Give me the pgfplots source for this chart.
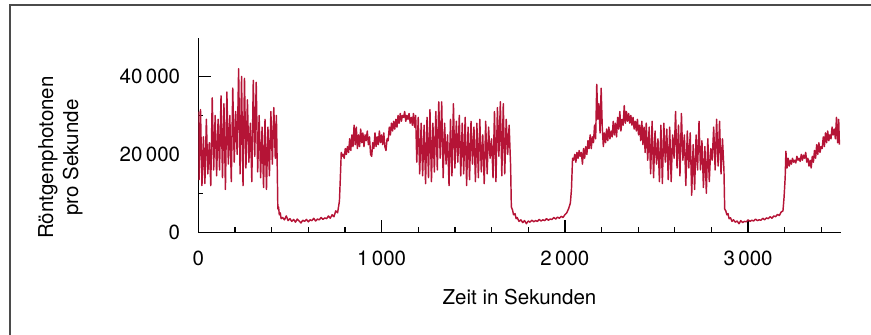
\documentclass[border=0pt]{standalone}
\usepackage{fontspec}
\setmainfont{TeX Gyre Heros}
\usepackage{pgfplots}
\pgfplotsset{compat=1.18}
\definecolor{crim}{RGB}{181,20,54}
\definecolor{framec}{RGB}{75,75,75}
\begin{document}
\fontsize{20.5}{25}\selectfont
\begin{tikzpicture}[x=1pt,y=1pt]
\useasboundingbox (0,0) rectangle (871,335);
\clip (0,0) rectangle (871,335);
\draw[framec, line width=1.7pt] (10.3,-20) -- (10.3,330.2) -- (900,330.2);
\begin{axis}[
  at={(198.3pt,102.7pt)}, anchor=south west,
  scale only axis, width=642.4pt, height=194.8pt,
  xmin=0, xmax=3505, ymin=0, ymax=50000,
  axis x line=bottom, axis y line=left,
  axis line style={-, line width=1.3pt, black},
  tick align=inside,
  major tick length=12.5pt, minor tick length=5pt,
  every tick/.style={line width=1.3pt, black},
  xtick={0,1000,2000,3000},
  minor xtick={200,400,600,800,1200,1400,1600,1800,2200,2400,2600,2800,3200,3400},
  ytick={0,20000,40000},
  minor ytick={10000,30000},
  /pgf/number format/assume math mode=true,
  /pgf/number format/1000 sep={\,},
  scaled ticks=false,
  tick label style={font=\fontsize{20.5}{25}\selectfont},
  xticklabel style={anchor=base, inner sep=0pt, yshift=-33pt},
  yticklabel style={anchor=east, inner sep=0pt, xshift=-18pt},
  every axis x label/.style={at={(axis description cs:0.5,-0.3732)}, anchor=base, inner sep=0pt, font=\fontsize{20.5}{25}\selectfont},
  every axis y label/.style={at={(axis description cs:-0.2145,0.384)}, anchor=center, rotate=90, align=center, inner sep=0pt, font=\fontsize{20.5}{25}\selectfont},
  xlabel={Zeit in Sekunden},
  ylabel={Röntgenphotonen\\pro Sekunde},
  clip=true,
]
\addplot[color=crim, line width=1.45pt, line join=round] coordinates {
(0,31000) (4,13500) (12,31500) (20,12000) (28,24500) (36,12500) (44,29000) (52,15000) (60,23000) (68,12000)
(76,34500) (84,16000) (92,30000) (100,14500) (108,29000) (116,16000) (124,35000) (132,14000) (140,33000) (148,11000)
(156,36000) (164,17500) (172,30000) (180,13000) (188,37000) (196,18000) (204,31000) (212,20000) (220,42000) (228,15000)
(236,40000) (244,12000) (252,39500) (260,16500) (268,34000) (276,18000) (284,28000) (292,13000) (300,39000) (308,19500)
(316,38500) (324,15500) (332,30000) (340,14000) (348,27000) (356,11500) (364,29000) (372,11000) (380,27000) (388,14500)
(396,31000) (404,17500) (412,32000) (420,19000) (426,30000) (430,19000) (434,6000) (438,6500) (442,4500) (447,5000) (452,3500)
(460,3800) (470,3200) (480,4200) (490,3000) (500,3500) (510,2800) (520,3300) (530,2600) (540,3400) (550,2900)
(560,2400) (570,3100) (580,2800) (590,3300) (600,2700) (610,3200) (620,3000) (630,3600) (640,2900) (650,3400)
(660,3200) (670,3800) (680,3300) (690,3700) (700,3500) (710,4200) (720,3600) (730,4500) (740,4000) (750,5500)
(760,5000) (765,6500) (770,8000) (775,14000) (780,20500) (785,19500)
(790,20000) (796,19000) (802,21500) (808,20000) (814,22000) (820,20500) (826,24000) (832,21000) (838,25000) (844,22000)
(850,27500) (856,22500) (862,27000) (868,21500) (874,25000) (880,22000) (886,26500) (892,23000) (898,25500) (904,22000)
(910,25000) (916,23500) (922,26000) (928,22500) (934,24500) (940,20000) (946,19500) (952,23000) (958,21500) (964,25500)
(970,22000) (976,24500) (982,22500) (988,26000) (994,23000) (1000,25000) (1006,22500) (1012,25500) (1018,22000) (1024,21000)
(1030,24000) (1036,23500) (1042,27000) (1048,25000) (1054,28000) (1060,26000) (1066,28500) (1072,26500) (1078,29000) (1084,27000)
(1090,30000) (1096,28000) (1102,30500) (1108,28500) (1114,30000) (1120,29500) (1126,31000) (1132,28500) (1138,30000) (1144,29000)
(1150,30500) (1156,28000) (1162,29500) (1168,27500) (1174,30500) (1180,27000) (1186,30000)
(1192,18000) (1200,29500) (1208,15000) (1216,28000) (1224,14500) (1232,27500) (1240,12500) (1248,29500) (1256,14000) (1264,31500)
(1272,13000) (1280,28000) (1288,15500) (1296,31000) (1304,16000) (1312,33500) (1320,19000) (1328,33500) (1336,14000) (1344,28000)
(1352,17500) (1360,25000) (1368,12000) (1376,29000) (1384,14500) (1392,33000) (1400,16500) (1408,28500) (1416,18000) (1424,30000)
(1432,14500) (1440,28000) (1448,15000) (1456,29500) (1464,12000) (1472,27000) (1480,13500) (1488,28500) (1496,17500) (1504,27000)
(1512,13000) (1520,28000) (1528,14000) (1536,29000) (1544,15500) (1552,25000) (1560,12500) (1568,28500) (1576,15000) (1584,27000)
(1592,19000) (1600,24000) (1608,14000) (1616,31000) (1624,13000) (1632,32000) (1640,19500) (1648,33500) (1656,14500) (1664,33000)
(1672,15000) (1680,29000) (1688,20000) (1696,27500) (1704,17000) (1708,6500) (1714,5800) (1720,4500)
(1728,4800) (1734,3500) (1740,3800) (1750,2800)
(1760,3200) (1770,2500) (1780,3000) (1790,2200) (1800,2900) (1810,2600) (1820,3100) (1830,2700) (1840,3000) (1850,2800)
(1860,3300) (1870,2900) (1880,3200) (1890,3000) (1900,3500) (1910,3100) (1920,3400) (1930,3300) (1940,3800) (1950,3400)
(1960,3900) (1970,3600) (1980,4100) (1990,3800) (2000,4500) (2010,5000) (2020,6000) (2030,7500) (2036,11000) (2042,19000)
(2048,18500) (2054,20000) (2060,18000) (2066,20500) (2072,19000) (2078,21000) (2084,19500) (2090,20500) (2096,17500) (2102,21500)
(2108,19000) (2114,22000) (2120,20000) (2126,23500) (2132,21500) (2138,25000) (2144,21500) (2150,24500) (2156,23000) (2162,27500)
(2168,24000) (2174,38000) (2180,29000) (2186,33000) (2192,25500) (2198,37000) (2204,27000) (2210,22000) (2216,25500) (2222,23000)
(2228,26500) (2234,23500) (2240,27000) (2246,24000) (2252,26000) (2258,24500) (2264,28500) (2270,25000) (2276,28000) (2282,24500)
(2288,29500) (2294,26500) (2300,31000) (2306,26000) (2312,29000) (2318,27500) (2324,32500) (2330,28000) (2336,31000) (2342,28500)
(2348,30500) (2354,28000) (2360,30000) (2366,27500) (2372,29500) (2378,26500) (2384,28500) (2390,26000) (2396,29000) (2402,25000)
(2408,27500) (2414,23500) (2420,28500) (2426,22500) (2432,27000) (2438,20500)
(2444,28000) (2452,18500) (2460,27000) (2468,15000) (2476,28500) (2484,14000) (2492,26000) (2500,17500) (2508,24000) (2516,13000)
(2524,27500) (2532,12500) (2540,28000) (2548,18000) (2556,26500) (2564,13500) (2572,27000) (2580,13000) (2588,25000) (2596,19000)
(2604,31000) (2612,16500) (2620,27500) (2628,14500) (2636,30500) (2644,18500) (2652,25000) (2660,12000) (2668,26000) (2676,16500)
(2684,25500) (2692,9500) (2700,22500) (2708,11000) (2716,25000) (2724,16000) (2732,28500) (2740,16000) (2748,23500) (2756,11500)
(2764,22000) (2772,10000) (2780,24000) (2788,13000) (2796,21500) (2804,18500) (2812,27000) (2820,16000) (2828,29000) (2836,17000)
(2844,28500) (2852,15000) (2860,24000) (2868,16000) (2872,6000) (2878,5500) (2884,4500) (2890,4800) (2896,3500) (2904,3700) (2912,2800)
(2920,3200) (2930,2600) (2940,2900) (2950,2200) (2960,3000) (2970,2500) (2980,2800) (2990,2700) (3000,3200) (3010,2800)
(3020,3100) (3030,2900) (3040,3400) (3050,3000) (3060,3200) (3070,3100) (3080,3600) (3090,3200) (3100,3700) (3110,3500)
(3120,4000) (3130,3600) (3140,4200) (3150,4000) (3160,4600) (3170,4300) (3180,5200) (3190,5500) (3196,9000) (3202,14000)
(3206,20800) (3212,16500) (3218,19000)
(3224,17000) (3230,18500) (3236,17500) (3242,19000) (3248,18000) (3254,18500) (3260,17800) (3266,19500) (3272,18500) (3278,19000)
(3284,18200) (3290,20000) (3296,18500) (3302,19800) (3308,19000) (3314,20500) (3320,18000) (3326,19000) (3332,17000) (3338,18500)
(3344,16500) (3350,19500) (3356,18000) (3362,21000) (3368,19000) (3374,22500) (3380,20000) (3386,23000) (3392,20500) (3398,22000)
(3404,21500) (3410,24500) (3416,22000) (3422,25500) (3428,23000) (3434,26000) (3440,23500) (3446,25000) (3452,24000) (3458,27000)
(3464,25000) (3470,26500) (3476,24000) (3482,29500) (3488,23000) (3494,29000) (3498,22500)
};
\end{axis}
\end{tikzpicture}
\end{document}
